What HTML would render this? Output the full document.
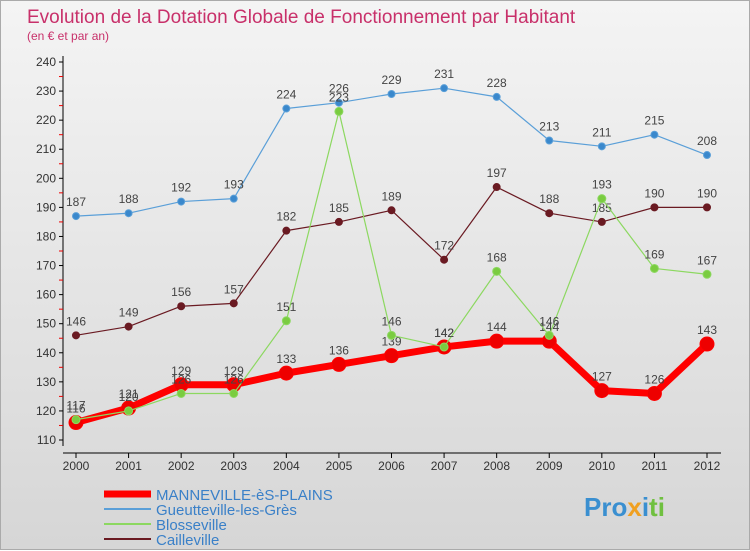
<!DOCTYPE html>
<html><head><meta charset="utf-8"><style>
body{margin:0;width:750px;height:550px;overflow:hidden;font-family:"Liberation Sans",sans-serif}
#c{position:absolute;left:0;top:0;width:748px;height:548px;border:1px solid #aaa;background:linear-gradient(#f4f4f4,#d6d6d6)}
</style></head><body>
<div id="c">
<svg width="750" height="550" id="svg" style="position:absolute;left:0;top:0">
<text x="26" y="22" font-size="19" fill="#c8306a">Evolution de la Dotation Globale de Fonctionnement par Habitant</text>
<text x="26" y="39" font-size="12" fill="#c8306a">(en € et par an)</text>
<g id="axes"></g><g id="series"></g><g id="legend"></g>
<text x="583" y="515" font-size="26" font-weight="bold" fill="#3a8fd0">Pro<tspan fill="#f0a020">x</tspan><tspan fill="#3a8fd0">i</tspan><tspan fill="#70c040">ti</tspan></text>
</svg></div>
<script>
const years=[2000,2001,2002,2003,2004,2005,2006,2007,2008,2009,2010,2011,2012];
const yTicks=[110,120,130,140,150,160,170,180,190,200,210,220,230,240];
const manneville=[116,121,129,129,133,136,139,142,144,144,127,126,143];
const gueutteville=[187,188,192,193,224,226,229,231,228,213,211,215,208];
const blosseville=[117,120,126,126,151,223,146,142,168,146,193,169,167];
const cailleville=[146,149,156,157,182,185,189,172,197,188,185,190,190];
const NS="http://www.w3.org/2000/svg";
const X=i=>75+i*(706-75)/12, Y=v=>439-(v-110)*(378/130);
function mk(t,a,p){const e=document.createElementNS(NS,t);for(const k in a)e.setAttribute(k,a[k]);p.appendChild(e);return e;}
const ax=document.getElementById('axes');
let l=mk('line',{x1:62,y1:55,x2:62,y2:445,stroke:'#000'},ax);


l=mk('line',{x1:62,y1:452,x2:720,y2:452,stroke:'#000'},ax);


yTicks.forEach(v=>{mk('line',{x1:58,y1:Y(v),x2:62,y2:Y(v),stroke:'#000'},ax);
 if(v<240)mk('line',{x1:58,y1:Y(v+5),x2:62,y2:Y(v+5),stroke:'#e00'},ax);
 const t=mk('text',{x:55,y:Y(v)+4,'font-size':12,'text-anchor':'end',fill:'#333'},ax);t.textContent=v;
 
 });
years.forEach((y,i)=>{mk('line',{x1:X(i),y1:452,x2:X(i),y2:457,stroke:'#000'},ax);
 const t=mk('text',{x:X(i),y:469,'font-size':12,'text-anchor':'middle',fill:'#333'},ax);t.textContent=y;
 
 });
const sg=document.getElementById('series');
function series(d,col,dot,w,r,name){
 const p=mk('polyline',{points:d.map((v,i)=>X(i)+','+Y(v)).join(' '),fill:'none',stroke:col,'stroke-width':w,'stroke-linejoin':'round'},sg);
 
 
 d.forEach((v,i)=>{const c=mk('circle',{cx:X(i),cy:Y(v),r:r,fill:dot,stroke:col,'stroke-width':1},sg);
  
  
  const t=mk('text',{x:X(i),y:Y(v)-10,'font-size':12,'text-anchor':'middle',fill:'#444'},sg);t.textContent=v;
  
  });
}
series(gueutteville,'#5a9fd8','#3a88cc',1.2,3.5,'gueutteville');
series(cailleville,'#6a1a22','#6a1a22',1.2,3.5,'cailleville');
series(manneville,'#ff0000','#ee0000',7,7,'manneville');
series(blosseville,'#8cd860','#7acc40',1.2,4,'blosseville');
const lg=document.getElementById('legend');
[['MANNEVILLE-èS-PLAINS','#ff0000',7],['Gueutteville-les-Grès','#5a9fd8',2],['Blosseville','#8cd860',2],['Cailleville','#6a1a22',2]].forEach((e,i)=>{
 const y=493+i*15;
 const ln=mk('line',{x1:103,y1:y,x2:150,y2:y,stroke:e[1],'stroke-width':e[2]},lg);
 
 
 const t=mk('text',{x:155,y:y+6,'font-size':15,fill:'#3a80c8'},lg);t.textContent=e[0];
 
 
});
</script>
</body></html>
